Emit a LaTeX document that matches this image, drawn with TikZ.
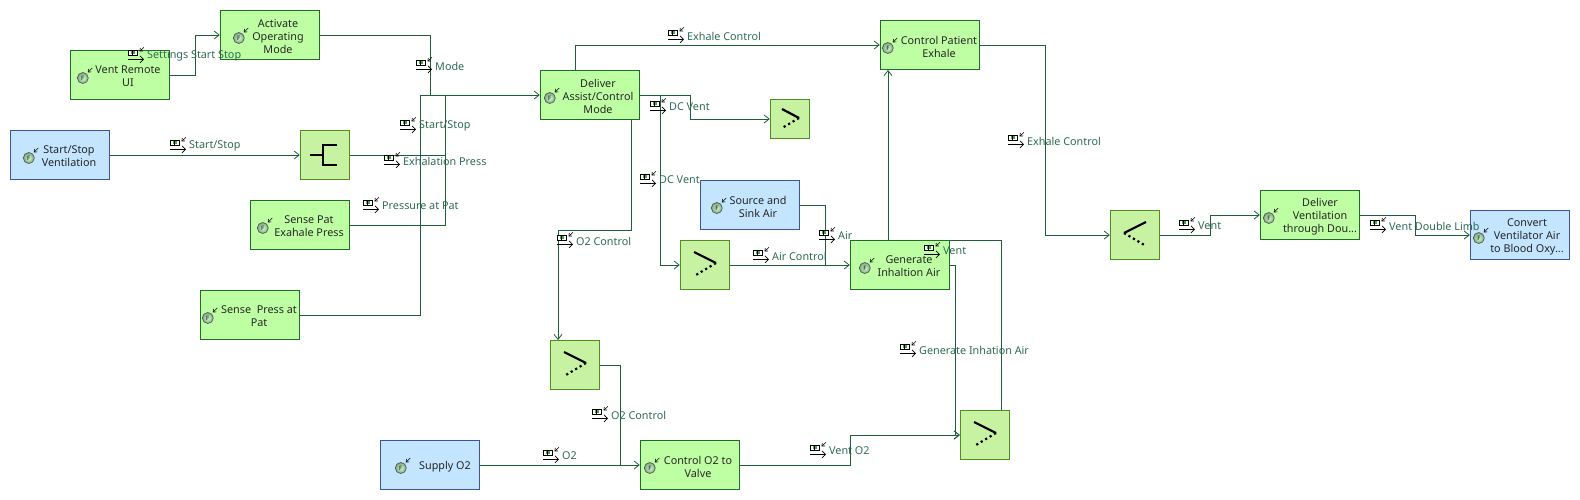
\documentclass[tikz,border=0pt]{standalone}
\usepackage{fontspec}
\setmainfont{Noto Sans}
\usetikzlibrary{arrows.meta,calc}
\definecolor{linegreen}{HTML}{1E5F3A}
\definecolor{labelgreen}{HTML}{2F6B55}
\definecolor{funcfill}{HTML}{BFFFA3}
\definecolor{funcdraw}{HTML}{1F6B2A}
\definecolor{envfill}{HTML}{C3E5FF}
\definecolor{envdraw}{HTML}{3D5590}
\definecolor{gatefill}{HTML}{C6F2A2}
\definecolor{gatedraw}{HTML}{4F8F20}
\tikzset{
  x=1pt,y=-1pt,
  conn/.style={draw=linegreen,line width=0.9pt,-{Straight Barb[length=5pt,width=8pt,line width=0.8pt]}},
  plainconn/.style={draw=linegreen,line width=0.9pt},
  funcbox/.style={draw=funcdraw,fill=funcfill,line width=0.9pt,minimum width=99.5pt,minimum height=49.5pt,inner sep=0pt},
  envbox/.style={draw=envdraw,fill=envfill,line width=0.9pt,minimum width=99.5pt,minimum height=49.5pt,inner sep=0pt},
  gatebox/.style={draw=gatedraw,fill=gatefill,line width=0.9pt,minimum width=49.5pt,minimum height=49.5pt,inner sep=0pt},
  gatesmall/.style={gatebox,minimum width=39.5pt,minimum height=39.5pt},
  boxtext/.style={align=center,inner sep=0pt,font=\fontsize{10.8}{13}\selectfont,text=black!85},
  flowtext/.style={anchor=west,inner sep=0pt,font=\fontsize{10.8}{13}\selectfont,text=labelgreen},
  ficon/.style={circle,draw=black!65,line width=0.7pt,inner color=white!80!green,outer color=green!30!black!50,minimum size=11pt,inner sep=0pt,font=\fontsize{6}{6}\selectfont\bfseries,text=black},
  flowicon/.pic={
    \draw[black,line width=0.7pt,fill=white] (0,-5) rectangle (9.5,0);
    \fill[green!55!black!75] (3,-4.2) rectangle (7,-.8);
    \draw[black,line width=0.6pt] (4,-5) -- (4,0);
    \draw[black,line width=0.7pt,-{Straight Barb[length=3.5pt,width=7pt]}] (0,4.3) -- (16,4.3);
    \draw[black,line width=0.6pt,-{Straight Barb[length=2.5pt,width=4pt]}] (16,-7.7) -- (11.5,-3.5);
  },
  gateline/.style={black,line width=2.2pt},
  gatedots/.style={black,line width=2.2pt,dash pattern=on 2.2pt off 3pt},
}
% name, style, centre x, centre y, text, text dx, icon dx, icon dy
\newcommand{\funcnode}[8]{%
  \node[#2] (#1) at (#3,#4) {};
  \node[boxtext] (#1-text) at ($(#1.center)+(#6,1.5)$) {#5};
  \node[ficon] (#1-f) at ($(#1.west)+(#7,#8)$) {F};
  \draw[black,line width=0.6pt,-{Straight Barb[length=2.5pt,width=4pt]}]
     ($(#1-f.center)+(9.5,-10)$) -- ($(#1-f.center)+(5,-5.5)$);
}
% name, icon left x, text centre y, text
\newcommand{\flowlabel}[4]{%
  \pic at (#2,#3) {flowicon};
  \node[flowtext] (#1) at (#2+19,#3+1) {#4};
}
\begin{document}
\begin{tikzpicture}
\useasboundingbox (0,0) rectangle (1580,500);
\fill[white] (0,0) rectangle (1580,500);

% Boxes
\funcnode{remote}{funcbox}{120}{75}{Vent Remote\\UI}{8}{13}{3}
\funcnode{activate}{funcbox}{270}{35}{Activate\\Operating\\Mode}{8}{19}{3}
\funcnode{startstop}{envbox}{60}{155}{Start/Stop\\Ventilation}{9}{19}{3}
\funcnode{sensepat}{funcbox}{300}{225}{Sense Pat\\Exahale Press}{9}{13}{3}
\funcnode{sensepress}{funcbox}{250}{315}{Sense~ Press at\\Pat}{9}{8}{3}
\funcnode{assist}{funcbox}{590}{95}{Deliver\\Assist/Control\\Mode}{8}{10}{3}
\funcnode{exhale}{funcbox}{930}{45}{Control Patient\\Exhale}{9}{8}{3}
\funcnode{source}{envbox}{750}{205}{Source and\\Sink Air}{8}{17}{3}
\funcnode{generate}{funcbox}{900}{265}{Generate\\Inhaltion Air}{9}{15}{3}
\funcnode{ctrlo}{funcbox}{690}{465}{Control O2 to\\Valve}{8}{10}{3}
\funcnode{supply}{envbox}{430}{465}{Supply O2}{15}{21}{3}
\funcnode{delvent}{funcbox}{1310}{215}{Deliver\\Ventilation\\through Dou...}{10}{9}{3}
\funcnode{convert}{envbox}{1520}{235}{Convert\\Ventilator Air\\to Blood Oxy...}{7}{9}{3}

\node[gatebox] (gfork) at (325,155) {};
\node[gatesmall] (gsmall) at (790,119) {};
\node[gatebox] (gair) at (705,265) {};
\node[gatebox] (go2) at (575,365) {};
\node[gatebox] (gvent) at (985,435) {};
\node[gatebox] (gout) at (1135,235) {};

% Gate symbols
\draw[gateline] (310,155) -- (323,155);
\draw[gateline] (337,145) -- (323,145) -- (323,165) -- (337,165);
\draw[gateline] (782,109) -- (799,118);
\draw[gatedots] (799,118) -- (782,128);
\draw[gateline] (694,252) -- (716,263);
\draw[gatedots] (716,263) -- (696,275);
\draw[gateline] (564,352) -- (586,363);
\draw[gatedots] (586,363) -- (566,375);
\draw[gateline] (974,422) -- (996,433);
\draw[gatedots] (996,433) -- (976,445);
\draw[gateline] (1146,222) -- (1124,233);
\draw[gatedots] (1124,233) -- (1146,246);

% Connectors
\coordinate (busin) at (420,95);
\draw[conn] (remote.east) -- (195.5,75) -- (195.5,35) -- (activate.west);
\draw[plainconn] (activate.east) -- (430,35) -- (430,95);
\draw[conn] (startstop.east) -- (gfork.west);
\draw[plainconn] (gfork.east) -- (445,155) -- (445,95);
\draw[plainconn] (sensepat.east) -- (445,225) -- (445,95);
\draw[conn] (sensepress.east) -- (420,315) -- (busin) -- (assist.west);
\draw[conn] (575,70) -- (575,45) -- (exhale.west);
\draw[conn] (assist.east) -- (690,95) -- (690,119) -- (gsmall.west);
\draw[conn] (assist.east) -- (660,95) -- (660,265) -- (gair.west);
\draw[conn] (631,120) -- (631,230) -- (558,230) -- (558,340);
\draw[plainconn] (go2.east) -- (620,365) -- (620,465);
\draw[conn] (supply.east) -- (ctrlo.west);
\draw[conn] (ctrlo.east) -- (850,465) -- (850,435) -- (gvent.west);
\draw[plainconn] (source.east) -- (825,205) -- (825,265);
\draw[conn] (gair.east) -- (generate.west);
\draw[conn] (888,240) -- (888,70);
\draw[plainconn] (950,240) -- (1001.5,240) -- (1001.5,410);
\draw[conn] (generate.east) -- (955,265) -- (955,435) -- (gvent.west);
\draw[conn] (exhale.east) -- (1045,45) -- (1045,235) -- (gout.west);
\draw[conn] (gout.east) -- (1210,235) -- (1210,215) -- (delvent.west);
\draw[conn] (delvent.east) -- (1415,215) -- (1415,235) -- (convert.west);

% Flow labels
\flowlabel{l1}{128}{55}{Settings Start Stop}
\flowlabel{l2}{170}{145}{Start/Stop}
\flowlabel{l3}{416}{65}{Mode}
\flowlabel{l4}{400}{125}{Start/Stop}
\flowlabel{l5}{384}{160}{Exhalation Press}
\flowlabel{l6}{363}{205}{Pressure at Pat}
\flowlabel{l7}{650}{106}{DC Vent}
\flowlabel{l8}{640}{179}{DC Vent}
\flowlabel{l9}{557}{240}{O2 Control}
\flowlabel{l10}{753}{255}{Air Control}
\flowlabel{l11}{819}{235}{Air}
\flowlabel{l12}{924}{250}{Vent}
\flowlabel{l13}{900}{349}{Generate Inhation Air}
\flowlabel{l14}{810}{450}{Vent O2}
\flowlabel{l15}{592}{414}{O2 Control}
\flowlabel{l16}{543}{455}{O2}
\flowlabel{l17}{668}{35}{Exhale Control}
\flowlabel{l18}{1008}{140}{Exhale Control}
\flowlabel{l19}{1179}{225}{Vent}
\flowlabel{l20}{1370}{225}{Vent Double Limb}
\end{tikzpicture}
\end{document}
